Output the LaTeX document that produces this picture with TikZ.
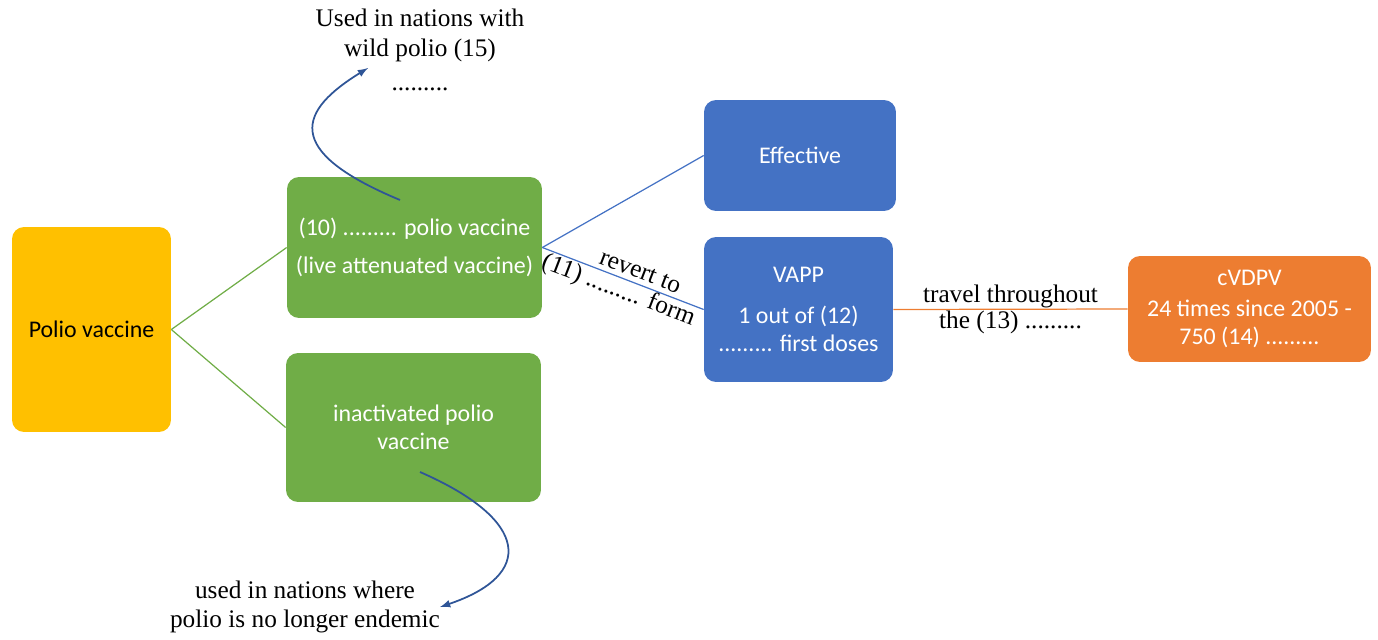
\documentclass[tikz,border=0pt]{standalone}
\usepackage{fontspec}
\setmainfont{Liberation Serif}
\setsansfont{Carlito}
\definecolor{polioyellow}{HTML}{FFC000}
\definecolor{vgreen}{HTML}{70AD47}
\definecolor{vblue}{HTML}{4472C4}
\definecolor{vorange}{HTML}{ED7D31}
\definecolor{arrowblue}{HTML}{2F5597}
\begin{document}
\begin{tikzpicture}[x=0.02cm,y=-0.02cm]
   \tikzstyle{box}=[rounded corners=0.24cm, inner sep=0pt, align=center, text=white, font=\sffamily\fontsize{13.6}{16}\selectfont]
   \tikzstyle{note}=[align=center, inner sep=1pt, text=black, font=\fontsize{14.4}{17}\selectfont]
   \tikzstyle{link}=[line width=0.7pt]
   \tikzstyle{curvy}=[draw=arrowblue, line width=1pt, -latex]

\useasboundingbox (0,0) rectangle (1378,639);

% boxes
\node[box, fill=polioyellow, text=black, minimum width=3.18cm, minimum height=4.1cm] (polio) at (91.5,329.5) {Polio vaccine};
\node[box, fill=vgreen, minimum width=5.1cm, minimum height=2.82cm] (opv) at (414.5,247.5) {(10) ......... polio vaccine\\[6pt](live attenuated vaccine)};
\node[box, fill=vgreen, minimum width=5.1cm, minimum height=2.98cm] (ipv) at (413.5,427.5) {inactivated polio\\vaccine};
\node[box, fill=vblue, minimum width=3.84cm, minimum height=2.22cm] (effective) at (800,155.5) {Effective};
\node[box, fill=vblue, minimum width=3.78cm, minimum height=2.9cm] (vapp) at (798.5,309.5) {VAPP\\[7pt]1 out of (12)\\......... first doses};
\node[box, fill=vorange, minimum width=4.86cm, minimum height=2.12cm] (cvdpv) at (1249.5,309) {cVDPV\\[2pt]24 times since 2005 -\\750 (14) .........};

% notes
\node[note] (wild) at (420,50) {Used in nations with\\wild polio (15)\\[2pt].........};
\node[note] (endemic) at (305,607) {used in nations where\\polio is no longer endemic};

% links
\draw[link, vgreen] (polio.east) -- (opv.west);
\draw[link, vgreen] (polio.east) -- (ipv.west);
\draw[link, vblue] (opv.east) -- (effective.west);
\draw[link, vblue] (opv.east) -- (vapp.west)
   node[pos=0.58, sloped, above, note, inner sep=2.5pt] {revert to}
   node[pos=0.5, sloped, below, note, inner sep=0.5pt] {(11) ......... form};
\draw[link, vorange] (vapp.east) -- (cvdpv.west)
   node[midway, above, note, inner sep=0.5pt] {travel throughout}
   node[midway, below, note, inner sep=0.5pt] {the (13) .........};

% curved arrows
\coordinate (opvtail) at (400,200);
\coordinate (wildtip) at (368,68);
\coordinate (ipvtail) at (420,472);
\coordinate (endemictip) at (440,607);
\draw[curvy] (opvtail) .. controls (280,150) and (300,110) .. (wildtip);
\draw[curvy] (ipvtail) .. controls (530,520) and (535,575) .. (endemictip);

\end{tikzpicture}
\end{document}
